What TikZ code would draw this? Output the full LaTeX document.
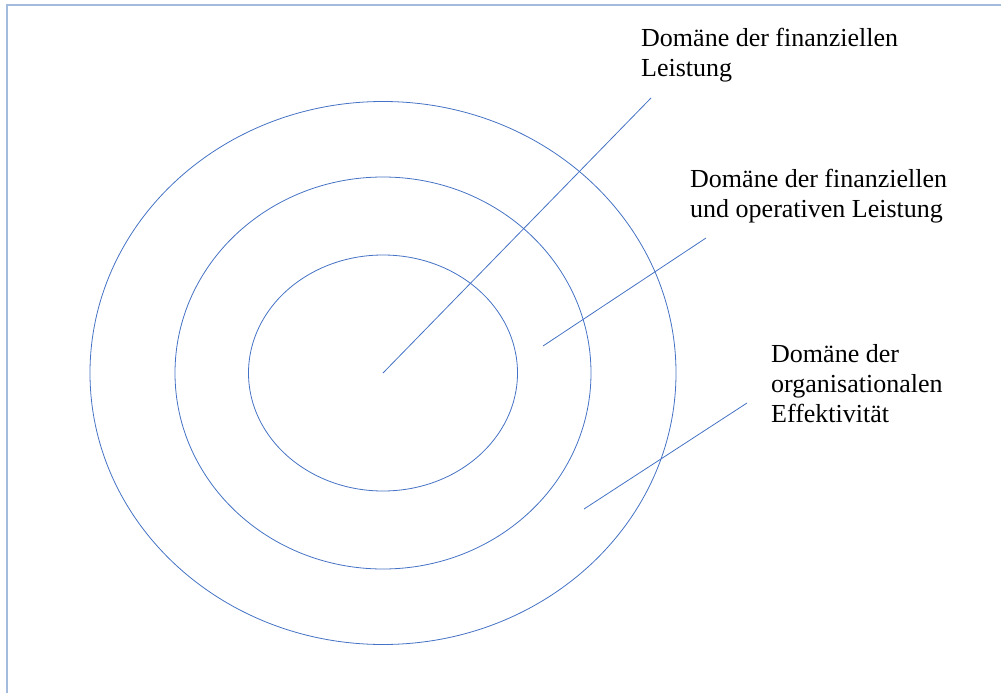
\documentclass[tikz,border=0pt]{standalone}
\usepackage{fontspec}
\setmainfont{Liberation Serif}
\definecolor{ringblue}{HTML}{4472C4}
\definecolor{frameblue}{HTML}{A3BBDD}
\begin{document}
\begin{tikzpicture}[x=1pt,y=-1pt,
  ring/.style={draw=ringblue,line width=0.8pt},
  leader/.style={draw=ringblue,line width=0.8pt},
  frame/.style={draw=frameblue,line width=2pt},
  label/.style={font=\fontsize{26}{30}\selectfont,align=left,inner sep=0pt,anchor=base west}]
\useasboundingbox (0,0) rectangle (1001,693);
\draw[frame] (1001,5) -- (7,5) -- (7,693);
\coordinate (c) at (383,373);
\draw[ring] (c) ellipse [x radius=293, y radius=271.5];
\draw[ring] (c) ellipse [x radius=208, y radius=196];
\draw[ring] (c) ellipse [x radius=134.5, y radius=118];
\node[label] (t1) at (641,77) {Domäne der finanziellen\\Leistung};
\node[label] (t2) at (690,217) {Domäne der finanziellen\\und operativen Leistung};
\node[label] (t3) at (771,422) {Domäne der\\organisationalen\\Effektivität};
\coordinate (e1) at (651,98);
\coordinate (s2) at (543,346);
\coordinate (e2) at (706,238);
\coordinate (s3) at (584,509);
\coordinate (e3) at (747,403);
\draw[leader] (c) -- (e1);
\draw[leader] (s2) -- (e2);
\draw[leader] (s3) -- (e3);
\end{tikzpicture}
\end{document}
